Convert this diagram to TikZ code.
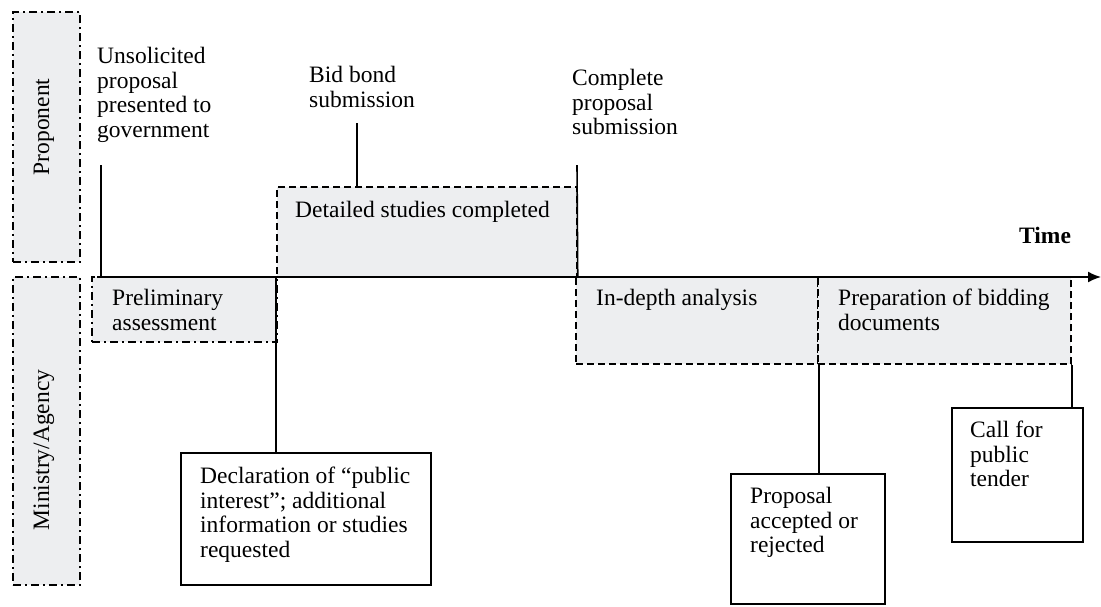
\documentclass[tikz,border=0pt]{standalone}
\usepackage{fontspec}
\setmainfont{Liberation Serif}
\usetikzlibrary{arrows.meta,fit}
\definecolor{boxgray}{RGB}{237,238,240}
\newcommand{\diagfont}{\fontsize{23.5}{24.5}\selectfont}
\begin{document}
\begin{tikzpicture}[x=1pt,y=-1pt,
  lbl/.style={font=\diagfont, align=left, inner sep=0pt, anchor=north west},
  lane/.style={draw, fill=boxgray, line width=1.5pt, inner sep=0pt,
    dash pattern=on 8pt off 4pt on 2pt off 4pt},
  phasedd/.style={draw, fill=boxgray, line width=1.5pt, inner sep=0pt,
    dash pattern=on 8pt off 4pt on 2pt off 4pt},
  phase/.style={draw, fill=boxgray, line width=1.5pt, inner sep=0pt,
    dash pattern=on 7pt off 4pt},
  event/.style={draw, line width=1.6pt, inner sep=0pt},
  tick/.style={line width=1.6pt}]
\useasboundingbox (0,0) rectangle (1101,606);

% swim lanes
\node[lane, fit={(13,12)(80,262)}] (lanep) {};
\node[lane, fit={(13,277)(80,585)}] (lanem) {};
\node[rotate=90, font=\diagfont] (tlanep) at (44,127) {Proponent};
\node[rotate=90, font=\diagfont] (tlanem) at (44,450) {Ministry/Agency};

% phase boxes
\node[phasedd, fit={(92,277)(277,342)}] (prelim) {};
\node[phase, fit={(277,187)(577,277)}] (detail) {};
\node[phase, fit={(576,277)(818,364)}] (indepth) {};
\node[phase, fit={(818,277)(1071,364)}] (prep) {};

% event boxes
\node[event, fit={(181,453)(431,585)}] (decl) {};
\node[event, fit={(731,474)(885,604)}] (accept) {};
\node[event, fit={(952,408)(1083,542)}] (tender) {};

% time axis
\coordinate (ax0) at (97,277);
\coordinate (ax1) at (1101,277);
\draw[tick, -{Latex[length=13pt,width=11pt]}] (ax0) -- (ax1);
\node[lbl, font=\diagfont\bfseries] (time) at (1019,227) {Time};

% proponent milestones
\coordinate (unsol) at (101,165);
\coordinate (bidbond) at (357,123);
\coordinate (complete) at (577,165);
\draw[tick] (unsol) -- (unsol |- ax0);
\draw[tick] (bidbond) -- (bidbond |- detail.north);
\draw[tick] (complete) -- (detail.south east);

% agency decisions
\draw[tick] (detail.south west) -- (detail.south west |- decl.north);
\draw[tick] (indepth.south east) -- (indepth.south east |- accept.north);
\draw[tick] (prep.south east) -- (prep.south east |- tender.north);

% labels
\node[lbl] (tunsol) at (97,47) {Unsolicited\\proposal\\presented to\\government};
\node[lbl] (tbid) at (309,66) {Bid bond\\submission};
\node[lbl] (tcomp) at (572,69) {Complete\\proposal\\submission};
\node[lbl] (tdetail) at (295,201) {Detailed studies completed};
\node[lbl] (tprelim) at (112,289) {Preliminary\\assessment};
\node[lbl] (tindepth) at (596,289) {In-depth analysis};
\node[lbl] (tprep) at (838,289) {Preparation of bidding\\documents};
\node[lbl] (tdecl) at (200,467) {Declaration of “public\\interest”; additional\\information or studies\\requested};
\node[lbl] (taccept) at (750,487) {Proposal\\accepted or\\rejected};
\node[lbl] (ttender) at (970,421) {Call for\\public\\tender};
\end{tikzpicture}
\end{document}
